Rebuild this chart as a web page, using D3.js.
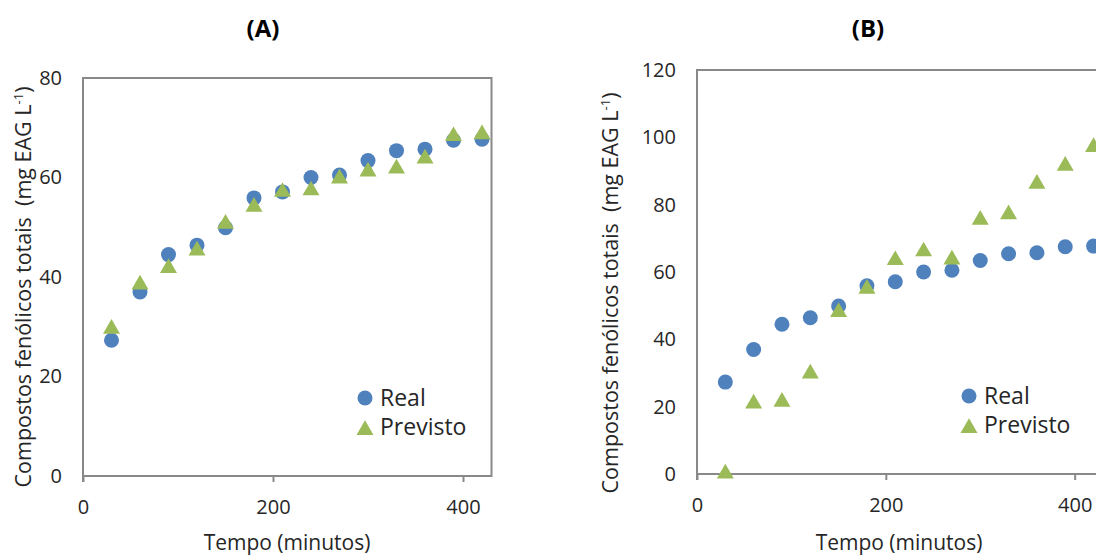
<!DOCTYPE html>
<html>
<head>
<meta charset="utf-8">
<script src="https://cdn.jsdelivr.net/npm/d3@7"></script>
<style>
  body { margin: 0; background: #fff; }
  text { font-family: "Open Sans", sans-serif; fill: #262626; }
</style>
</head>
<body>
<div></div>
<script>
var tempo = [30, 60, 90, 120, 150, 180, 210, 240, 270, 300, 330, 360, 390, 420];

var realValues = [27.3, 37.0, 44.5, 46.4, 49.9, 55.9, 57.1, 60.0, 60.5, 63.4, 65.4, 65.7, 67.5, 67.7];
var previstoA = [30.0, 38.9, 42.2, 45.7, 51.1, 54.5, 57.5, 57.8, 60.2, 61.6, 62.2, 64.2, 68.7, 69.1];
var previstoB = [0.7, 21.5, 22.0, 30.4, 48.7, 55.6, 64.1, 66.7, 64.3, 76.1, 77.7, 86.8, 92.1, 97.7];

var xTicks = [0, 200, 400];
var yTicksA = [0, 20, 40, 60, 80];
var yTicksB = [0, 20, 40, 60, 80, 100, 120];

var seriesNames = ["Real", "Previsto"];
var titles = ["(A)", "(B)"];

var blue = "#4f81bd",
	green = "#9bbb59",
	axisColor = "#898989";

var svg = d3.select("div")
	.append("svg")
	.attr("width", 1096)
	.attr("height", 556);

var triangle = d3.symbol().type(d3.symbolTriangle).size(125);

function drawPanel(p) {
	var x = d3.scaleLinear().domain([0, 430]).range([p.left, p.right]);
	var y = d3.scaleLinear().domain([0, p.yMax]).range([p.bottom, p.top]);

	var g = svg.append("g");

	// plot frame
	g.append("rect")
		.attr("x", p.left)
		.attr("y", p.top)
		.attr("width", p.right - p.left)
		.attr("height", p.bottom - p.top)
		.attr("fill", "none")
		.attr("stroke", axisColor)
		.attr("stroke-width", 2);

	var xAxis = g.append("g")
		.attr("transform", "translate(0," + p.bottom + ")")
		.call(d3.axisBottom(x).tickValues(xTicks).tickSize(6).tickPadding(18));
	var yAxis = g.append("g")
		.attr("transform", "translate(" + p.left + ",0)")
		.call(d3.axisLeft(y).tickValues(p.yTicks).tickSize(0).tickPadding(21));

	[xAxis, yAxis].forEach(function(a) {
		a.select(".domain").remove();
		a.selectAll("line").attr("stroke", axisColor).attr("stroke-width", 2);
		a.selectAll("text")
			.attr("font-family", "Open Sans")
			.attr("font-size", 20)
			.attr("fill", "#262626");
	});

	// y axis line runs a little below the x axis, like Excel
	g.append("line")
		.attr("x1", p.left).attr("x2", p.left)
		.attr("y1", p.top).attr("y2", p.bottom + 6)
		.attr("stroke", axisColor).attr("stroke-width", 2);
	g.append("line")
		.attr("x1", p.left).attr("x2", p.right)
		.attr("y1", p.bottom).attr("y2", p.bottom)
		.attr("stroke", axisColor).attr("stroke-width", 2);

	// points
	g.selectAll(".real")
		.data(tempo)
		.enter()
		.append("circle")
		.attr("cx", function(d) { return x(d); })
		.attr("cy", function(d, i) { return y(realValues[i]); })
		.attr("r", 7.5)
		.attr("fill", blue);

	g.selectAll(".prev")
		.data(tempo)
		.enter()
		.append("path")
		.attr("d", triangle)
		.attr("transform", function(d, i) { return "translate(" + x(d) + "," + (y(p.previsto[i]) + 2) + ")"; })
		.attr("fill", green);

	// titles
	g.append("text")
		.attr("x", p.titleX)
		.attr("y", 37)
		.attr("text-anchor", "middle")
		.attr("font-size", 24)
		.attr("font-weight", "bold")
		.style("fill", "#000")
		.text(p.title);

	g.append("text")
		.attr("x", p.xTitleX)
		.attr("y", 550)
		.attr("text-anchor", "middle")
		.attr("font-size", 21)
		.text("Tempo (minutos)");

	var yt = g.append("text")
		.attr("transform", "translate(" + p.yTitleX + "," + p.yTitleY + ") rotate(-90)")
		.attr("text-anchor", "middle")
		.attr("font-size", 21.5)
		.attr("xml:space", "preserve");
	yt.append("tspan").text("Compostos fenólicos totais  (mg EAG L");
	yt.append("tspan").attr("dy", -8).attr("font-size", 13).text("-1");
	yt.append("tspan").attr("dy", 8).text(")");

	// legend
	var lg = g.append("g").attr("transform", "translate(" + p.legendX + "," + p.legendY + ")");
	lg.append("circle").attr("cx", 0).attr("cy", 0).attr("r", 7.5).attr("fill", blue);
	lg.append("path").attr("d", triangle).attr("transform", "translate(0,32)").attr("fill", green);
	seriesNames.forEach(function(name, i) {
		lg.append("text")
			.attr("x", 15)
			.attr("y", i * 29 + 8)
			.attr("font-size", 23)
			.text(name);
	});
}

drawPanel({
	left: 83, right: 491.5, top: 78, bottom: 476,
	yMax: 80, yTicks: yTicksA, previsto: previstoA,
	title: titles[0], titleX: 263, xTitleX: 287,
	yTitleX: 31, yTitleY: 287,
	legendX: 365, legendY: 398
});

drawPanel({
	left: 697, right: 1103, top: 70, bottom: 474,
	yMax: 120, yTicks: yTicksB, previsto: previstoB,
	title: titles[1], titleX: 868, xTitleX: 899,
	yTitleX: 618, yTitleY: 293,
	legendX: 969, legendY: 396
});
</script>
</body>
</html>
